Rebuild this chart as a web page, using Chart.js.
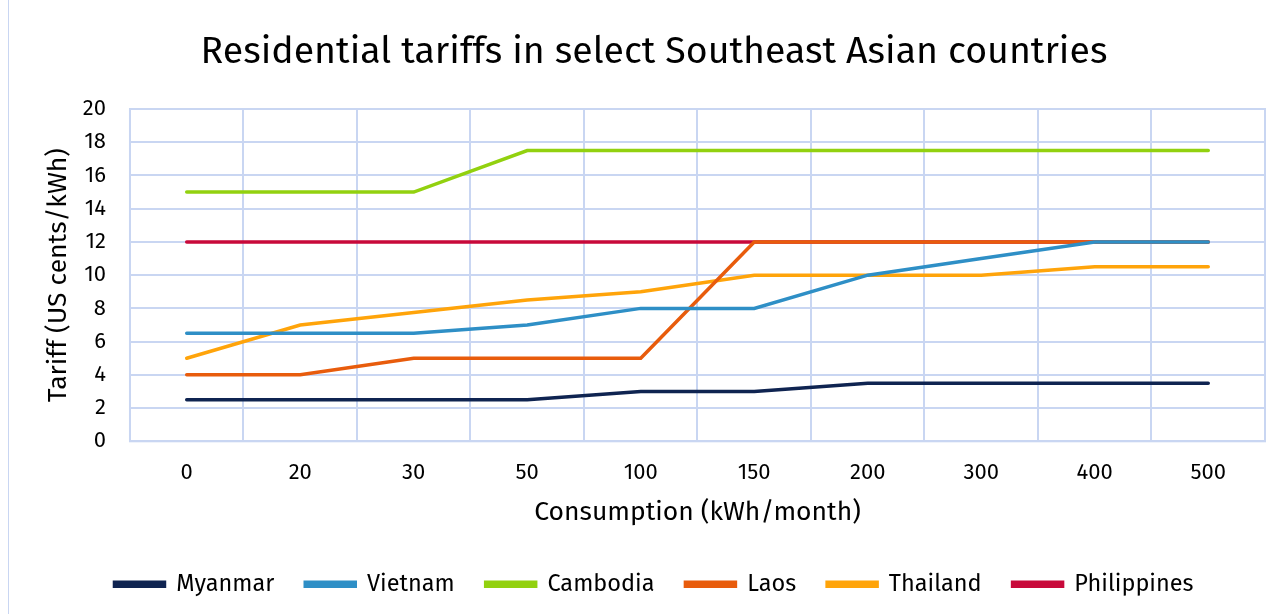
<!DOCTYPE html>
<html>
<head>
<meta charset="utf-8">
<script src="https://cdn.jsdelivr.net/npm/chart.js@4/dist/chart.umd.min.js"></script>
<style>
  html, body { margin: 0; padding: 0; background: #fff; overflow: hidden; }
  #wrap { position: relative; width: 1281px; height: 614px; }
  #frame { position: absolute; left: 8px; top: -2px; width: 1290px; height: 630px; border: 1px solid #c9d6f2; box-sizing: border-box; }
  canvas { position: absolute; left: 0; top: 0; }
</style>
</head>
<body>
<div id="wrap">
  <div id="frame"></div>
  <canvas id="miGrafico" width="1281" height="614"></canvas>
</div>
<script>
// datos del gráfico
var categorias = ['0', '20', '30', '50', '100', '150', '200', '300', '400', '500'];
var myanmar = [2.5, 2.5, 2.5, 2.5, 3, 3, 3.5, 3.5, 3.5, 3.5];
var vietnam = [6.5, 6.5, 6.5, 7, 8, 8, 10, 11, 12, 12];
var cambodia = [15, 15, 15, 17.5, 17.5, 17.5, 17.5, 17.5, 17.5, 17.5];
var laos = [4, 4, 5, 5, 5, 12, 12, 12, 12, 12];
var thailand = [5, 7, 7.75, 8.5, 9, 10, 10, 10, 10.5, 10.5];
var philippines = [12, 12, 12, 12, 12, 12, 12, 12, 12, 12];

var fuente = "'Fira Sans', 'Noto Sans', sans-serif";
var rejilla = '#c9d6f2';

function serie(nombre, valores, color) {
  return {
    label: nombre,
    data: valores,
    borderColor: color,
    backgroundColor: color,
    borderWidth: 3.5,
    pointRadius: 0,
    tension: 0,
    borderCapStyle: 'round'
  };
}

window.addEventListener('load', function () {
  var canvas = document.getElementById('miGrafico');
  var ctx = canvas.getContext('2d');

  new Chart(ctx, {
    type: 'line',
    data: {
      labels: categorias,
      datasets: [
        serie('Myanmar', myanmar, '#0f2451'),
        serie('Vietnam', vietnam, '#2e8fc6'),
        serie('Cambodia', cambodia, '#92d10f'),
        serie('Laos', laos, '#e85c0c'),
        serie('Thailand', thailand, '#ffa40a'),
        serie('Philippines', philippines, '#c8093a')
      ]
    },
    options: {
      responsive: false,
      animation: false,
      layout: { padding: { left: 43, right: 16, top: 10, bottom: 8 } },
      plugins: {
        title: {
          display: true,
          text: 'Residential tariffs in select Southeast Asian countries',
          color: '#000',
          font: { family: fuente, size: 37.5, weight: 'normal' },
          padding: { top: 20, bottom: 34 }
        },
        legend: {
          position: 'bottom',
          labels: {
            color: '#000',
            font: { family: fuente, size: 23.5 },
            boxWidth: 50,
            boxHeight: 4,
            padding: 31
          }
        },
        tooltip: { enabled: false }
      },
      scales: {
        x: {
          offset: true,
          grid: { color: rejilla, lineWidth: 2, offset: true, drawTicks: false },
          border: { color: rejilla, width: 2 },
          ticks: { color: '#000', font: { family: fuente, size: 22 }, padding: 18 },
          title: {
            display: true,
            text: 'Consumption (kWh/month)',
            color: '#000',
            font: { family: fuente, size: 26.5 },
            padding: { top: -7, bottom: 13 }
          }
        },
        y: {
          min: 0,
          max: 20,
          ticks: { stepSize: 2, color: '#000', font: { family: fuente, size: 22 }, padding: 24 },
          grid: { color: rejilla, lineWidth: 2, drawTicks: false },
          border: { color: rejilla, width: 2 },
          title: {
            display: true,
            text: 'Tariff (US cents/kWh)',
            color: '#000',
            font: { family: fuente, size: 26.5 },
            padding: { top: 0, bottom: -16 }
          }
        }
      }
    },
    plugins: [{
      id: 'bordeArea',
      afterDraw: function (chart) {
        var a = chart.chartArea;
        var c = chart.ctx;
        c.save();
        c.strokeStyle = rejilla;
        c.lineWidth = 2;
        c.strokeRect(a.left, a.top, a.right - a.left, a.bottom - a.top);
        c.restore();
      }
    }]
  });
});
</script>
</body>
</html>
